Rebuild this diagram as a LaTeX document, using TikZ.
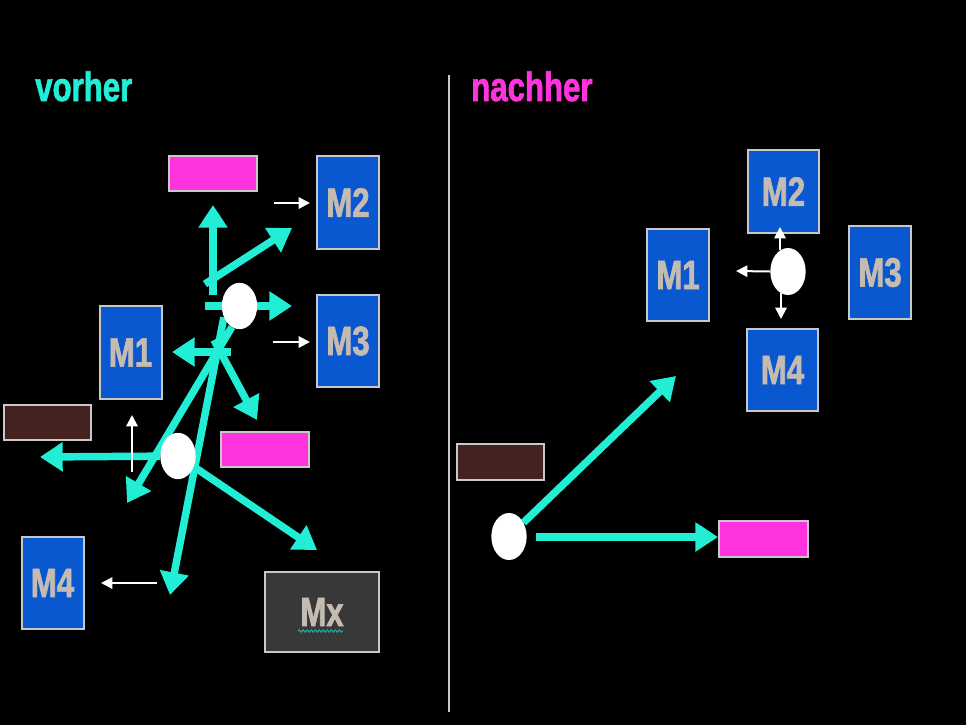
\documentclass[tikz,border=0pt]{standalone}
\usepackage{fontspec}
\newfontfamily\nar{Liberation Sans Bold}[FakeStretch=0.76,FakeBold=1.6]
\usetikzlibrary{arrows.meta,shapes.geometric,decorations.pathmorphing}
\definecolor{cy}{HTML}{22EED6}
\definecolor{mg}{HTML}{FF33DD}
\definecolor{bl}{HTML}{0A58D0}
\definecolor{br}{HTML}{45211F}
\definecolor{bd}{HTML}{C8C8C8}
\definecolor{tx}{HTML}{C4BCB2}
\definecolor{dg}{HTML}{383838}
\definecolor{sq}{HTML}{1FA8A0}
\pgfdeclarelayer{back}
\pgfdeclarelayer{bg}
\pgfsetlayers{back,bg,main}
\tikzset{
  box/.style={draw=bd, line width=1.5pt, inner sep=0pt, text=tx,
    font=\nar\fontsize{30.75pt}{32pt}\selectfont},
  mbox/.style={box, fill=bl, minimum width=46.5pt, minimum height=69.5pt},
  mboxw/.style={box, fill=bl, minimum width=53.25pt, minimum height=62pt},
  pbar/.style={box, fill=mg, minimum width=66pt, minimum height=26.5pt},
  bbar/.style={box, fill=br, minimum width=65.25pt, minimum height=26.5pt},
  blob/.style={ellipse, fill=white, draw=none, inner sep=0pt,
    minimum width=26.5pt, minimum height=34.75pt},
  cyarr/.style={draw=cy, line width=5.6pt, -{Triangle[length=17pt,width=21pt]}},
  warr/.style={draw=white, line width=1.5pt, -{Triangle[length=8.5pt,width=8.5pt]}},
  title/.style={anchor=base west, inner sep=0pt,
    font=\nar\fontsize{30.75pt}{32pt}\selectfont}
}
\begin{document}
\begin{tikzpicture}[x=0.75pt,y=-0.75pt]
\begin{pgfonlayer}{back}
\fill[black] (0,0) rectangle (966,725);
\end{pgfonlayer}
\useasboundingbox (0,0) rectangle (966,725);

% titles and divider
\node[title, text=cy] (vorher) at (35,101) {vorher};
\node[title, text=mg] (nachher) at (471,101) {nachher};
\coordinate (dtop) at (449,75);
\coordinate (dbot) at (449,712);
\draw[bd, line width=1.5pt] (dtop) -- (dbot);

% ---------- vorher ----------
\node[pbar] (magL1) at (213,173.5) {};
\node[mbox] (M2L) at (348,202.5) {M2};
\node[mbox] (M3L) at (348,341) {M3};
\node[mbox] (M1L) at (130.5,352.5) {M1};
\node[bbar] (brL) at (47.5,422.5) {};
\node[pbar] (magL2) at (265,449.5) {};
\node[mbox] (M4L) at (52.5,583) {M4};
\node[box, fill=dg, minimum width=85.5pt, minimum height=60pt] (Mx) at (322,612) {Mx};
\draw[sq, line width=0.8pt, decorate, decoration={snake,amplitude=0.9pt,segment length=3pt}]
  (298,631) -- (343,631);

\node[blob] (e1) at (239.5,306) {};
\node[blob] (e2) at (178,456) {};

\coordinate (s1) at (213,295);  \coordinate (t1) at (213,205);
\coordinate (s2) at (205,284);  \coordinate (t2) at (292,228);
\coordinate (s3) at (205,306);  \coordinate (t3) at (292,306);
\coordinate (s4) at (231,352);  \coordinate (t4) at (172,352);
\coordinate (s5) at (214,340);  \coordinate (t5) at (257,420);
\coordinate (t6) at (170,595);
\coordinate (t7) at (127,503);
\coordinate (t8) at (40,457);
\coordinate (t9) at (317,550);

\coordinate (w1s) at (274,203); \coordinate (w1t) at (310,203);
\coordinate (w2s) at (273,342); \coordinate (w2t) at (310,342);
\coordinate (w3s) at (132,472); \coordinate (w3t) at (132,415);
\coordinate (w4s) at (157,583); \coordinate (w4t) at (101,583);

\begin{pgfonlayer}{bg}
\draw[cyarr] (s1) -- (t1);
\draw[cyarr] (s2) -- (t2);
\draw[cyarr] (s3) -- (t3);
\draw[cyarr] (s4) -- (t4);
\draw[cyarr] (s5) -- (t5);
\draw[cyarr] (e1.216) -- (t6);
\draw[cyarr] (e1.250) -- (t7);
\draw[cyarr] (e2) -- (t8);
\draw[cyarr] (e2) -- (t9);
\end{pgfonlayer}
\draw[warr] (w1s) -- (w1t);
\draw[warr] (w2s) -- (w2t);
\draw[warr] (w3s) -- (w3t);
\draw[warr] (w4s) -- (w4t);

% ---------- nachher ----------
\node[mboxw] (M2R) at (783.5,191.5) {M2};
\node[mbox] (M1R) at (678,275) {M1};
\node[mbox] (M3R) at (880,272.5) {M3};
\node[mboxw] (M4R) at (782.5,370) {M4};
\node[bbar, minimum height=27pt] (brR) at (500.5,462) {};
\node[pbar, minimum height=27pt, minimum width=66.75pt] (magR) at (763.5,539) {};

\node[blob, minimum height=35.25pt] (e3) at (788,271.5) {};
\node[blob, minimum height=35.25pt] (e4) at (509,536.5) {};

\coordinate (c1t) at (676,376);
\coordinate (c2s) at (536,537);
\coordinate (w5t) at (736,271);
\coordinate (w6s) at (780,250); \coordinate (w6t) at (780,227);
\coordinate (w7s) at (781,293); \coordinate (w7t) at (781,319);

\begin{pgfonlayer}{bg}
\draw[cyarr] (e4) -- (c1t);
\draw[cyarr] (c2s) -- (c2s -| magR.west);
\end{pgfonlayer}
\draw[warr] (e3.west) -- (w5t);
\draw[warr] (w6s) -- (w6t);
\draw[warr] (w7s) -- (w7t);
\end{tikzpicture}
\end{document}
